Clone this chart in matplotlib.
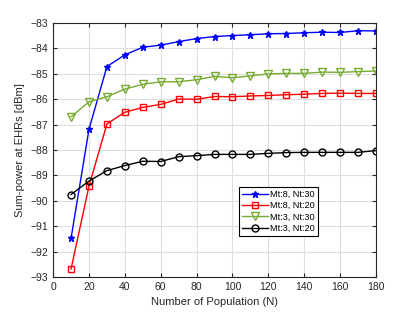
import matplotlib.pyplot as plt

plt.rcParams['font.family'] = ['Liberation Sans', 'DejaVu Sans']

N = [10, 20, 30, 40, 50, 60, 70, 80, 90, 100, 110, 120, 130, 140, 150, 160, 170, 180]

mt8_nt30 = [-91.47, -87.18, -84.71, -84.25, -83.95, -83.87, -83.73, -83.61, -83.53, -83.49,
            -83.46, -83.42, -83.41, -83.38, -83.36, -83.37, -83.30, -83.31]
mt8_nt20 = [-92.68, -89.42, -86.97, -86.51, -86.32, -86.20, -85.99, -86.00, -85.89, -85.90,
            -85.87, -85.85, -85.82, -85.80, -85.77, -85.76, -85.77, -85.77]
mt3_nt30 = [-86.69, -86.10, -85.90, -85.60, -85.41, -85.31, -85.31, -85.23, -85.10, -85.15,
            -85.08, -85.00, -84.98, -84.98, -84.93, -84.94, -84.91, -84.89]
mt3_nt20 = [-89.75, -89.22, -88.81, -88.61, -88.44, -88.45, -88.26, -88.22, -88.17, -88.17,
            -88.17, -88.13, -88.10, -88.09, -88.09, -88.09, -88.09, -88.02]

labels = ['Mt:8, Nt:30', 'Mt:8, Nt:20', 'Mt:3, Nt:30', 'Mt:3, Nt:20']

fig = plt.figure(figsize=(4.15, 3.12), dpi=100)
ax = fig.add_axes([0.128, 0.112, 0.778, 0.814])

ax.plot(N, mt8_nt30, color='#0000ff', marker='*', ms=5, lw=1, label=labels[0])
ax.plot(N, mt8_nt20, color='#ff0000', marker='s', ms=4.5, mfc='none', lw=1, label=labels[1])
ax.plot(N, mt3_nt30, color='#77ac30', marker='v', ms=5.5, mfc='none', lw=1, label=labels[2])
ax.plot(N, mt3_nt20, color='black', marker='o', ms=5, mfc='none', lw=1, label=labels[3])

ax.set_xlim(0, 180)
ax.set_ylim(-93, -83)
ax.set_xticks(range(0, 181, 20))
ax.set_yticks(range(-93, -82, 1))
ax.grid(True, color='#dedede', lw=0.8)
ax.set_axisbelow(True)
ax.tick_params(direction='in', top=True, right=True, labelsize=7.5, length=3, colors='#262626')
for s in ax.spines.values():
    s.set_color('#262626')
    s.set_linewidth(0.8)

ax.set_xlabel('Number of Population (N)', fontsize=8, color='#262626')
ax.set_ylabel('Sum-power at EHRs [dBm]', fontsize=8, color='#262626')

leg = ax.legend(loc='upper left', bbox_to_anchor=(0.576, 0.354), fontsize=6.6,
                fancybox=False, edgecolor='black', framealpha=1, borderaxespad=0,
                handlelength=2.8, borderpad=0.3, labelspacing=0.25, handletextpad=0.3)
leg.get_frame().set_linewidth(0.8)

fig.savefig('out.png', dpi=100)
